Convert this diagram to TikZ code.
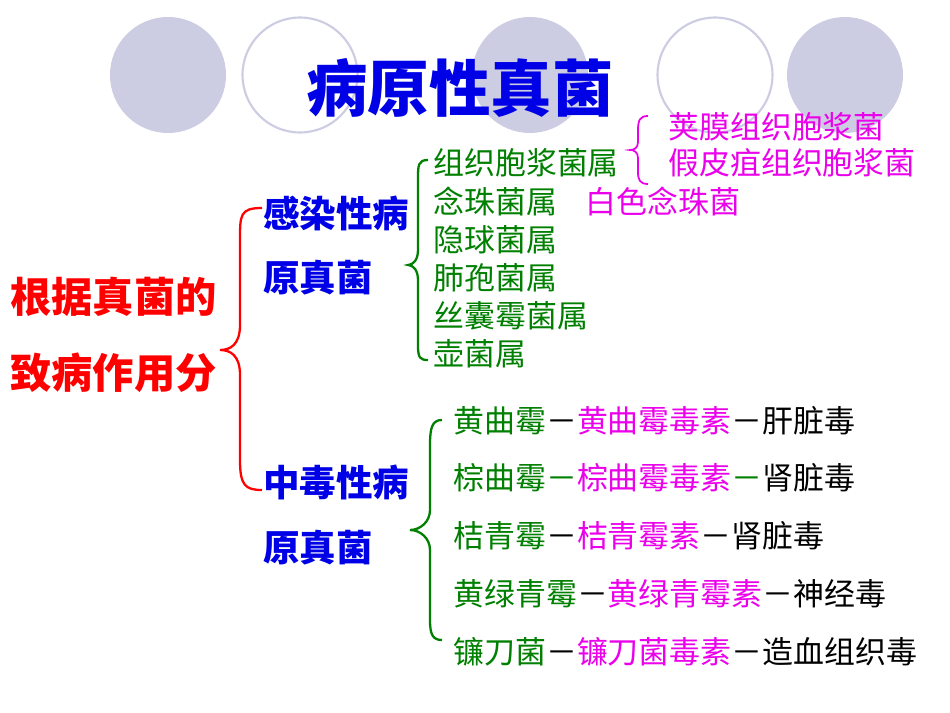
\documentclass[tikz,border=0pt]{standalone}
\usepackage{fontspec}
\setmainfont{Noto Sans CJK SC}
\begin{document}
\begin{tikzpicture}[x=0.02cm,y=-0.02cm]
\definecolor{gr}{RGB}{0,128,0}
\definecolor{mg}{RGB}{235,0,235}
\definecolor{bl}{RGB}{0,0,230}
\definecolor{lav}{RGB}{204,204,226}
\tikzset{t/.style={anchor=west,inner sep=0pt,font=\fontsize{17.6}{17.6}\selectfont},
 bt/.style={t,font=\fontsize{20.8}{20.8}\selectfont\bfseries,text=bl},
 rt/.style={t,font=\fontsize{23.5}{23.5}\selectfont\bfseries,text=red},
 fc/.style={fill=lav,draw=none},
 oc/.style={draw=lav,line width=1.2pt,fill=white}}
\useasboundingbox (0,0) rectangle (950,713);
\fill[white] (0,0) rectangle (950,713);
\node[fc,circle,minimum size=2.32cm] (c1) at (168,75) {};
\node[oc,circle,minimum size=2.3cm] (c2) at (300,75) {};
\node[fc,circle,minimum size=2.32cm] (c3) at (530,75) {};
\node[oc,circle,minimum size=2.3cm] (c4) at (715,75) {};
\node[fc,circle,minimum size=2.32cm] (c5) at (845,75) {};
\node[inner sep=0pt,text=bl,font=\fontsize{35}{35}\selectfont\bfseries] (title) at (460,88) {病原性真菌};
\node[rt] (l1) at (10,297) {根据真菌的};
\node[rt] (l2) at (10,373) {致病作用分};
\draw[red,line width=1.3pt] (262,208) .. controls (240,208) and (240,215) .. (240,240) -- (240,325) .. controls (240,345) and (230,350) .. (220,350) .. controls (230,350) and (240,355) .. (240,375) -- (240,460) .. controls (240,485) and (245,490) .. (262,490);
\node[bt] (a1) at (263,213) {感染性病};
\node[bt] (a2) at (263,278) {原真菌};
\node[bt] (b1) at (263,482) {中毒性病};
\node[bt] (b2) at (263,548) {原真菌};
\draw[gr,line width=1.3pt] (428,160) .. controls (418,160) and (418,165) .. (418,180) -- (418,250) .. controls (418,260) and (413,265) .. (408,265) .. controls (413,265) and (418,270) .. (418,280) -- (418,345) .. controls (418,358) and (420,360) .. (428,360);
\foreach \y/\s in {163/组织胞浆菌属,202/念珠菌属,240/隐球菌属,278/肺孢菌属,316/丝囊霉菌属,354/壶菌属}
 \node[t,text=gr] at (433,\y) {\s};
\draw[mg,line width=1pt] (648,116) .. controls (640,116) and (638,120) .. (638,130) -- (638,142) .. controls (638,148) and (634,150) .. (630,150) .. controls (634,150) and (638,152) .. (638,158) -- (638,172) .. controls (638,180) and (640,184) .. (648,184);
\node[t,text=mg] (m1) at (668,127) {荚膜组织胞浆菌};
\node[t,text=mg] (m2) at (668,163) {假皮疽组织胞浆菌};
\node[t,text=mg] (m3) at (585,202) {白色念珠菌};
\draw[gr,line width=1.3pt] (442,420) .. controls (432,420) and (430,428) .. (430,445) -- (430,510) .. controls (430,522) and (420,530) .. (410,530) .. controls (420,530) and (430,538) .. (430,550) -- (430,620) .. controls (430,635) and (433,640) .. (442,640);
\node[t] at (453,421) {\textcolor{gr}{黄曲霉}－\textcolor{mg}{黄曲霉毒素}－肝脏毒};
\node[t] at (453,478) {\textcolor{gr}{棕曲霉－}\textcolor{mg}{棕曲霉毒素}\textcolor{gr}{－}肾脏毒};
\node[t] at (453,536) {\textcolor{gr}{桔青霉}－\textcolor{mg}{桔青霉素}－肾脏毒};
\node[t] at (453,594) {\textcolor{gr}{黄绿青霉}－\textcolor{mg}{黄绿青霉素}－神经毒};
\node[t] at (453,652) {\textcolor{gr}{镰刀菌}－\textcolor{mg}{镰刀菌毒素}－造血组织毒};
\end{tikzpicture}
\end{document}
